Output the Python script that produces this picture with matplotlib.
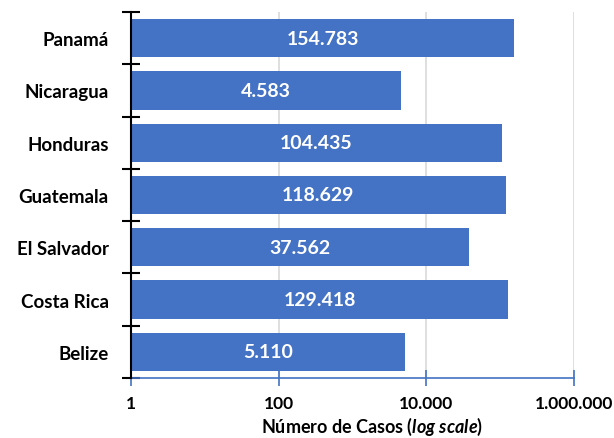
import numpy as np
import matplotlib.pyplot as plt
from matplotlib.ticker import FixedLocator

plt.rcParams["font.family"] = ["Lato", "DejaVu Sans"]
plt.rcParams["mathtext.fontset"] = "custom"
plt.rcParams["mathtext.it"] = "Lato:italic:bold"
plt.rcParams["mathtext.rm"] = "Lato:bold"

countries = ["Belize", "Costa Rica", "El Salvador", "Guatemala", "Honduras", "Nicaragua", "Panamá"]
casos = [5110, 129418, 37562, 118629, 104435, 4583, 154783]
xticks = [1, 100, 10000, 1000000]
xtick_labels = ["1", "100", "10.000", "1.000.000"]

bar_color = "#4472C4"

fig = plt.figure(figsize=(6.14, 4.39), dpi=100)
ax = fig.add_axes([0.2134, 0.1367, 0.7215, 0.8337])

y = np.arange(len(countries))
ax.barh(y, casos, height=0.73, left=1, color=bar_color, zorder=3)

for yi, v in zip(y, casos):
    lbl = f"{v:,}".replace(",", ".")
    ax.text(np.sqrt(v), yi, lbl, color="white", fontsize=14, fontweight="bold",
            ha="center", va="center", zorder=4)

ax.set_xscale("log")
ax.set_xlim(1, 1e6)
ax.set_ylim(-0.5, len(countries) - 0.5)

ax.xaxis.set_major_locator(FixedLocator(xticks))
ax.xaxis.set_minor_locator(FixedLocator([]))
ax.set_xticklabels(xtick_labels, fontsize=12.5, fontweight="bold")
ax.tick_params(axis="x", which="major", direction="inout", length=11, width=1.2,
               color=bar_color, pad=7)

ax.set_yticks(y)
ax.set_yticklabels(countries, fontsize=13.5, fontweight="bold")
ax.set_yticks(np.arange(-0.5, len(countries)), minor=True)
ax.tick_params(axis="y", which="major", length=0, pad=16)
ax.tick_params(axis="y", which="minor", direction="inout", length=13, width=1.5, color="black")

for xv in xticks[1:]:
    ax.axvline(xv, color="#d9d9d9", linewidth=1.2, zorder=1)

for s in ["top", "right"]:
    ax.spines[s].set_visible(False)
ax.spines["bottom"].set_color(bar_color)
ax.spines["bottom"].set_linewidth(1.2)
ax.spines["left"].set_color("black")
ax.spines["left"].set_linewidth(1.5)
ax.spines["left"].set_zorder(5)

ax.set_xlabel(r"Número de Casos ($\it{log}$ $\it{scale}$)", fontsize=13,
              fontweight="bold")
ax.xaxis.set_label_coords(0.544, -0.1)

fig.savefig("out.png", dpi=100)
